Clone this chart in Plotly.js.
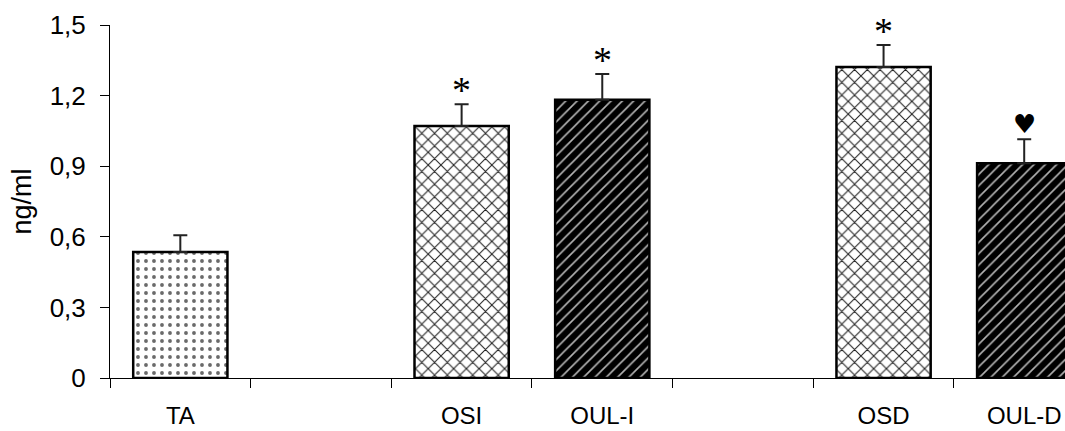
<!DOCTYPE html>
<html>
<head>
<meta charset="utf-8">
<script src="https://cdn.plot.ly/plotly-3.0.1.min.js"></script>
<style>html,body{margin:0;padding:0;background:#fff;}</style>
</head>
<body>
<div id="chart" style="width:1065px;height:431px;"></div>
<script>
// Categories (blank strings are the empty gap slots on the axis)
const categories = ['TA', ' ', 'OSI', 'OUL-I', '  ', 'OSD', 'OUL-D'];
const values     = [0.535, null, 1.071, 1.182, null, 1.322, 0.913];
const errors     = [0.072, null, 0.092, 0.110, null, 0.093, 0.102];
const signs      = ['', '', '*', '*', '', '*', '\u2665'];
const fillStyle  = ['dots', '', 'cross', 'brick', '', 'cross', 'brick'];
const yTickVals  = [0, 0.3, 0.6, 0.9, 1.2, 1.5];

const styles = {
  dots:  {shape: '.', bgcolor: '#ffffff', fgcolor: '#6a6a6a', size: 8, solidity: 0.18},
  cross: {shape: 'x', bgcolor: '#ffffff', fgcolor: '#222222', size: 9, solidity: 0.22},
  brick: {shape: '/', bgcolor: '#000000', fgcolor: '#b4b4b4', size: 8, solidity: 0.2}
};

const traces = Object.keys(styles).map(key => {
  const idx = categories.map((c, i) => i).filter(i => fillStyle[i] === key);
  const st = styles[key];
  return {
    type: 'bar',
    x: idx.map(i => categories[i]),
    y: idx.map(i => values[i]),
    width: 0.67,
    marker: {
      color: st.bgcolor,
      line: {color: '#000', width: 2.5},
      pattern: {
        shape: st.shape,
        bgcolor: st.bgcolor,
        fgcolor: st.fgcolor,
        size: st.size,
        solidity: st.solidity,
        fillmode: 'replace'
      }
    },
    error_y: {
      type: 'data',
      symmetric: false,
      array: idx.map(i => errors[i]),
      arrayminus: idx.map(() => 0),
      color: '#222',
      thickness: 2,
      width: 7
    },
    hoverinfo: 'skip'
  };
});

// Invisible trace carrying every category so the empty slots exist on the axis
traces.unshift({
  type: 'bar', x: categories, y: categories.map(() => null),
  showlegend: false, hoverinfo: 'skip'
});

const annotations = categories.map((c, i) => signs[i] ? {
  x: c,
  y: values[i] + errors[i],
  xref: 'x', yref: 'y',
  text: signs[i],
  showarrow: false,
  yanchor: 'bottom',
  yshift: signs[i] === '*' ? -9 : -2,
  font: signs[i] === '*'
    ? {family: 'Liberation Serif, Times New Roman, serif', size: 38, color: '#000'}
    : {family: 'DejaVu Sans, sans-serif', size: 26, color: '#000'}
} : null).filter(a => a);

const layout = {
  width: 1065,
  height: 431,
  margin: {l: 110, r: 0, t: 25, b: 53, pad: 0},
  paper_bgcolor: '#fff',
  plot_bgcolor: '#fff',
  separators: ',.',
  showlegend: false,
  barmode: 'overlay',
  font: {family: 'Liberation Sans, Arial, sans-serif', size: 23, color: '#000'},
  xaxis: {
    type: 'category',
    categoryorder: 'array',
    categoryarray: categories,
    range: [-0.5, 6.29],
    showline: true,
    linecolor: '#000',
    linewidth: 1,
    ticks: 'outside',
    tickson: 'boundaries',
    ticklen: 9,
    tickcolor: '#000',
    tickwidth: 1,
    ticklabelstandoff: 16,
    tickfont: {size: 24},
    showgrid: false,
    zeroline: false,
    fixedrange: true
  },
  yaxis: {
    range: [0, 1.5],
    tickmode: 'array',
    tickvals: yTickVals,
    showline: true,
    linecolor: '#000',
    linewidth: 1,
    ticks: 'outside',
    ticklen: 9,
    tickcolor: '#000',
    tickwidth: 1,
    ticklabelstandoff: 9,
    tickfont: {size: 26},
    showgrid: false,
    zeroline: false,
    title: {text: 'ng/ml', font: {size: 27}, standoff: 10},
    fixedrange: true
  },
  annotations: annotations
};

Plotly.newPlot('chart', traces, layout, {displayModeBar: false, staticPlot: true});
</script>
</body>
</html>
